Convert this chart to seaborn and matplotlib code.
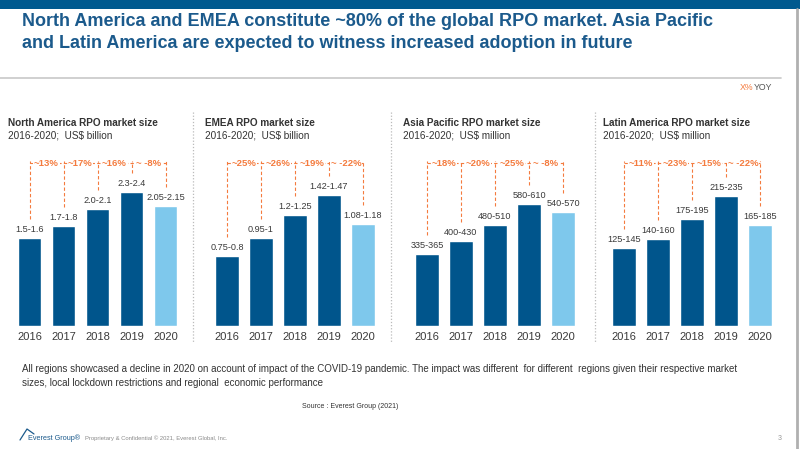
import matplotlib
matplotlib.use("Agg")
import matplotlib.pyplot as plt
import seaborn as sns
import pandas as pd
from matplotlib.lines import Line2D
from matplotlib.patches import Rectangle

sns.set_theme(style="white")
plt.rcParams['font.family'] = ['Liberation Sans', 'DejaVu Sans']

years = ["2016", "2017", "2018", "2019", "2020"]

na_mid = [1.55, 1.75, 2.05, 2.35, 2.10]
na_labels = ["1.5-1.6", "1.7-1.8", "2.0-2.1", "2.3-2.4", "2.05-2.15"]
na_yoy = ["~13%", "~17%", "~16%", "~ -8%"]

emea_mid = [0.775, 0.975, 1.225, 1.445, 1.13]
emea_labels = ["0.75-0.8", "0.95-1", "1.2-1.25", "1.42-1.47", "1.08-1.18"]
emea_yoy = ["~25%", "~26%", "~19%", "~ -22%"]

apac_mid = [350, 415, 495, 595, 555]
apac_labels = ["335-365", "400-430", "480-510", "580-610", "540-570"]
apac_yoy = ["~18%", "~20%", "~25%", "~ -8%"]

latam_mid = [135, 150, 185, 225, 175]
latam_labels = ["125-145", "140-160", "175-195", "215-235", "165-185"]
latam_yoy = ["~11%", "~23%", "~15%", "~ -22%"]

panel_titles = ["North America RPO market size", "EMEA RPO market size",
                "Asia Pacific RPO market size", "Latin America RPO market size"]
panel_subtitles = ["2016-2020;  US$ billion", "2016-2020;  US$ billion",
                   "2016-2020;  US$ million", "2016-2020;  US$ million"]
panel_ylim = [3.79, 2.387, 1054, 374]

DARK = "#00558c"
LIGHT = "#7ec8ec"
ORANGE = "#f47b3e"
TXT = "#3a3a3a"

W, H = 800, 449
fig = plt.figure(figsize=(8, 4.49), dpi=100)

def fx(px):
    return px / W

def fy(py):
    return 1 - py / H

# Top band and frame lines
fig.add_artist(Rectangle((0, fy(9)), 1, 9 / H, transform=fig.transFigure,
                         facecolor="#005a8f", edgecolor="none"))
fig.add_artist(Line2D([0, fx(781)], [fy(78), fy(78)], transform=fig.transFigure,
                      color="#c8c8c8", lw=1.2))
fig.add_artist(Line2D([fx(797), fx(797)], [0, fy(9)], transform=fig.transFigure,
                      color="#b0b0b0", lw=2))

fig.text(fx(22), fy(22), "North America and EMEA constitute ~80% of the global RPO market. Asia Pacific",
         fontsize=13, fontweight="bold", color="#1b5a8c", va="center", ha="left")
fig.text(fx(22), fy(44), "and Latin America are expected to witness increased adoption in future",
         fontsize=13, fontweight="bold", color="#1b5a8c", va="center", ha="left")

fig.text(fx(740), fy(88), "X%", color=ORANGE, fontsize=6.3, va="center", ha="left")
fig.text(fx(754), fy(88), "YOY", color="#555555", fontsize=6.3, va="center", ha="left")

datasets = [(na_mid, na_labels, na_yoy), (emea_mid, emea_labels, emea_yoy),
            (apac_mid, apac_labels, apac_yoy), (latam_mid, latam_labels, latam_yoy)]
ax_left = [12.5, 210, 410, 607]
title_x = [8, 205, 403, 603]
sep_x = [193, 391, 595]

ax_bottom_px, ax_top_px = 326, 110
for i, (vals, labels, yoy) in enumerate(datasets):
    ax = fig.add_axes([fx(ax_left[i]), fy(ax_bottom_px), fx(170),
                       (ax_bottom_px - ax_top_px) / H])
    df = pd.DataFrame({"year": years, "value": vals})
    pal = {y: (LIGHT if y == "2020" else DARK) for y in years}
    sns.barplot(data=df, x="year", y="value", hue="year", palette=pal,
                legend=False, width=0.7, ax=ax, saturation=1)
    ylim = panel_ylim[i]
    ax.set_ylim(0, ylim)
    ax.set_xlim(-0.5, 4.5)
    for s in ax.spines.values():
        s.set_visible(False)
    ax.set_yticks([])
    ax.set_ylabel("")
    ax.set_xlabel("")
    ax.tick_params(axis="x", length=0, pad=4, labelsize=8, labelcolor=TXT)
    px = ylim / (ax_bottom_px - ax_top_px)
    bracket_y = (ax_bottom_px - 163) * px
    for j, v in enumerate(vals):
        ax.text(j, v + 4 * px, labels[j], ha="center", va="bottom",
                fontsize=6.6, color=TXT)
        ax.plot([j, j], [v + 19 * px, bracket_y + 2 * px], ls=(0, (3, 2)),
                color=ORANGE, lw=0.8)
    ax.plot([0, len(vals) - 1], [bracket_y, bracket_y], ls=(0, (3, 2)), color=ORANGE, lw=0.8)
    for j, t in enumerate(yoy):
        ax.text(j + 0.5, bracket_y, t, ha="center", va="center", fontsize=6.8,
                color=ORANGE, fontweight="bold",
                bbox=dict(facecolor="white", edgecolor="none", pad=0.4))
    fig.text(fx(title_x[i]), fy(123), panel_titles[i], fontsize=7.2,
             fontweight="bold", color="#333333", va="center", ha="left")
    fig.text(fx(title_x[i]), fy(135), panel_subtitles[i], fontsize=7.2,
             color="#333333", va="center", ha="left")

for x in sep_x:
    fig.add_artist(Line2D([fx(x), fx(x)], [fy(112), fy(342)], transform=fig.transFigure,
                          color="#bbbbbb", lw=0.9, ls=(0, (1, 1.5))))

fig.text(fx(22), fy(369), "All regions showcased a decline in 2020 on account of impact of the COVID-19 pandemic. The impact was different  for different  regions given their respective market",
         fontsize=7.05, color="#333333", va="center", ha="left")
fig.text(fx(22), fy(383), "sizes, local lockdown restrictions and regional  economic performance",
         fontsize=7.05, color="#333333", va="center", ha="left")
fig.text(fx(350), fy(407), "Source : Everest Group (2021)", fontsize=5,
         color="#333333", va="center", ha="center")

fig.add_artist(Line2D([fx(20), fx(27), fx(34)], [fy(440), fy(429), fy(434)],
                      transform=fig.transFigure, color="#1b5a8c", lw=0.9))
fig.text(fx(28), fy(438), "Everest Group\u00ae", fontsize=5.2, color="#1b5a8c",
         va="center", ha="left")
fig.text(fx(85), fy(438), "Proprietary & Confidential \u00a9 2021, Everest Global, Inc.",
         fontsize=4.2, color="#8a8a8a", va="center", ha="left")
fig.text(fx(778), fy(439), "3", fontsize=5, color="#999999", va="center", ha="left")

fig.savefig("out.png", dpi=100, facecolor="white")
